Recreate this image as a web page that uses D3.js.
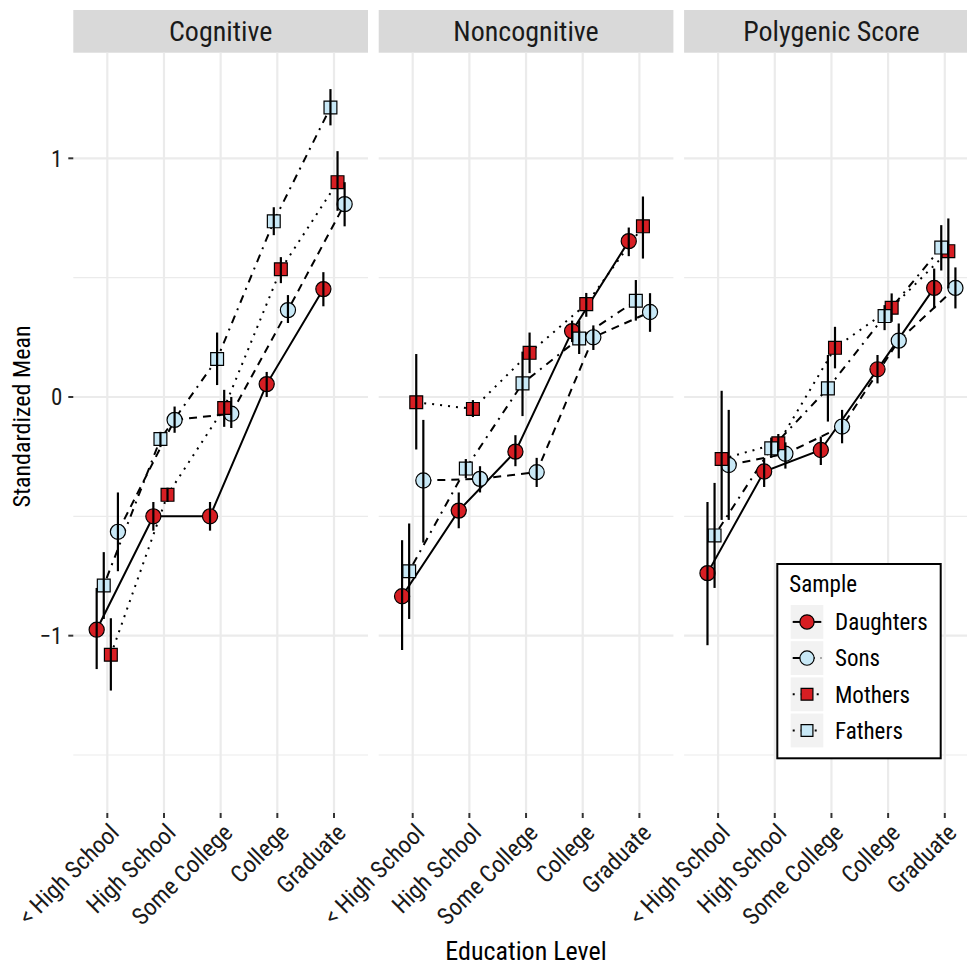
<!DOCTYPE html>
<html>
<head>
<meta charset="utf-8">
<script src="https://cdn.jsdelivr.net/npm/d3@7"></script>
<style>
  html, body { margin: 0; padding: 0; background: #ffffff; }
  svg { display: block; font-family: "Liberation Sans Narrow", "Roboto Condensed", "DejaVu Sans Condensed", sans-serif; }
</style>
</head>
<body>
<svg id="chart" width="967" height="966"></svg>
<script>
// ---------------- data ----------------
const categories = ["< High School", "High School", "Some College", "College", "Graduate"];
const panels = ["Cognitive", "Noncognitive", "Polygenic Score"];
const samples = ["Daughters", "Sons", "Mothers", "Fathers"];          // legend order
const dodgeOrder = ["Daughters", "Fathers", "Mothers", "Sons"];       // left-to-right within a category
const yTicks = [-1, 0, 1];
const yTickLabels = ["\u22121", "0", "1"];
const yMinor = [-1.5, -0.5, 0.5];
const yLimits = [-1.743, 1.4425];

// rows follow `samples` order: Daughters, Sons, Mothers, Fathers
const cognitiveMean = [
  [-0.975, -0.50, -0.50, 0.054, 0.452],
  [-0.565, -0.096, -0.07, 0.364, 0.808],
  [-1.08, -0.41, -0.046, 0.535, 0.90],
  [-0.79, -0.176, 0.159, 0.736, 1.213]
];
const cognitiveLo = [
  [-1.14, -0.56, -0.56, 0.0, 0.38],
  [-0.73, -0.15, -0.13, 0.31, 0.715],
  [-1.23, -0.44, -0.125, 0.477, 0.78],
  [-0.93, -0.21, 0.05, 0.678, 1.138]
];
const cognitiveHi = [
  [-0.80, -0.44, -0.44, 0.105, 0.523],
  [-0.40, -0.04, 0.0, 0.427, 0.90],
  [-0.927, -0.38, 0.03, 0.586, 1.03],
  [-0.65, -0.146, 0.27, 0.795, 1.29]
];

const noncognitiveMean = [
  [-0.835, -0.476, -0.229, 0.276, 0.653],
  [-0.35, -0.343, -0.315, 0.25, 0.356],
  [-0.022, -0.05, 0.185, 0.389, 0.715],
  [-0.73, -0.30, 0.057, 0.245, 0.403]
];
const noncognitiveLo = [
  [-1.06, -0.55, -0.29, 0.23, 0.59],
  [-0.61, -0.40, -0.377, 0.197, 0.273],
  [-0.22, -0.084, 0.10, 0.336, 0.58],
  [-0.93, -0.34, -0.08, 0.18, 0.32]
];
const noncognitiveHi = [
  [-0.60, -0.40, -0.16, 0.32, 0.71],
  [-0.096, -0.29, -0.255, 0.30, 0.435],
  [0.18, -0.013, 0.27, 0.436, 0.84],
  [-0.53, -0.26, 0.19, 0.32, 0.49]
];

const polygenicMean = [
  [-0.738, -0.312, -0.222, 0.116, 0.457],
  [-0.285, -0.238, -0.124, 0.236, 0.457],
  [-0.26, -0.194, 0.206, 0.374, 0.611],
  [-0.58, -0.215, 0.036, 0.339, 0.626]
];
const polygenicLo = [
  [-1.04, -0.377, -0.285, 0.057, 0.371],
  [-0.515, -0.30, -0.194, 0.162, 0.371],
  [-0.515, -0.229, 0.12, 0.315, 0.455],
  [-0.80, -0.255, -0.103, 0.28, 0.53]
];
const polygenicHi = [
  [-0.44, -0.255, -0.166, 0.176, 0.538],
  [-0.054, -0.19, -0.054, 0.308, 0.543],
  [0.026, -0.155, 0.294, 0.434, 0.748],
  [-0.36, -0.17, 0.176, 0.385, 0.72]
];

const panelMeans = [cognitiveMean, noncognitiveMean, polygenicMean];
const panelLos = [cognitiveLo, noncognitiveLo, polygenicLo];
const panelHis = [cognitiveHi, noncognitiveHi, polygenicHi];

// ---------------- styles ----------------
const fillColor = { Daughters: "#d71e23", Sons: "#c8e8f6", Mothers: "#d71e23", Fathers: "#c8e8f6" };
const shapeOf = { Daughters: d3.symbolCircle, Sons: d3.symbolCircle, Mothers: d3.symbolSquare, Fathers: d3.symbolSquare };
const dashOf = { Daughters: null, Sons: "8,6", Mothers: "2,6", Fathers: "2,6,8,6" };

// ---------------- layout ----------------
const svg = d3.select("#chart");
const panelLeft0 = 73.3, panelW = 294.7, panelGap = 10.7;
const panelTop = 52.7, panelBottom = 813, stripTop = 10;
const fontMain = 23;

const y = d3.scaleLinear().domain(yLimits).range([panelBottom, panelTop]);

panels.forEach((pname, pi) => {
  const left = panelLeft0 + pi * (panelW + panelGap);
  const x = d3.scalePoint().domain(categories).range([left, left + panelW]).padding(0.6);
  const step = x.step();
  const dodge = d3.scalePoint().domain(dodgeOrder).range([-0.375 * 0.5 * step, 0.375 * 0.5 * step]);
  const g = svg.append("g");

  // strip
  g.append("rect").attr("x", left).attr("y", stripTop).attr("width", panelW).attr("height", panelTop - stripTop)
    .attr("fill", "#d9d9d9");
  g.append("text").attr("x", left + panelW / 2).attr("y", (stripTop + panelTop) / 2)
    .attr("dy", "0.36em").attr("text-anchor", "middle").attr("font-size", 28).attr("fill", "#1a1a1a").text(pname);

  // grid
  g.selectAll(".minor").data(yMinor).join("line")
    .attr("x1", left).attr("x2", left + panelW).attr("y1", d => y(d)).attr("y2", d => y(d))
    .attr("stroke", "#ebebeb").attr("stroke-width", 1.2);
  g.selectAll(".major").data(yTicks).join("line")
    .attr("x1", left).attr("x2", left + panelW).attr("y1", d => y(d)).attr("y2", d => y(d))
    .attr("stroke", "#ebebeb").attr("stroke-width", 2.2);
  g.selectAll(".vgrid").data(categories).join("line")
    .attr("x1", d => x(d)).attr("x2", d => x(d)).attr("y1", panelTop).attr("y2", panelBottom)
    .attr("stroke", "#ebebeb").attr("stroke-width", 2.2);

  // x axis ticks & labels
  const xa = g.append("g");
  xa.selectAll("line").data(categories).join("line")
    .attr("x1", d => x(d)).attr("x2", d => x(d)).attr("y1", panelBottom).attr("y2", panelBottom + 5)
    .attr("stroke", "#333").attr("stroke-width", 2);
  xa.selectAll("text").data(categories).join("text")
    .attr("transform", d => `translate(${x(d) + 1},${panelBottom + 9}) rotate(-45)`)
    .attr("text-anchor", "end").attr("dy", "0.72em").attr("font-size", 24).attr("fill", "#1a1a1a")
    .text(d => d);

  // series
  const means = panelMeans[pi], los = panelLos[pi], his = panelHis[pi];
  const series = samples.map((s, si) => ({
    name: s,
    pts: categories.map((c, ci) => ({ c, v: means[si][ci], lo: los[si][ci], hi: his[si][ci] }))
  }));
  const line = d3.line().x(d => d.px).y(d => y(d.v));
  series.forEach(s => s.pts.forEach(p => p.px = x(p.c) + dodge(s.name)));

  // lines
  g.selectAll(".ser").data(series).join("path")
    .attr("d", s => line(s.pts)).attr("fill", "none").attr("stroke", "#000").attr("stroke-width", 2)
    .attr("stroke-dasharray", s => dashOf[s.name]);

  // points
  series.forEach(s => {
    g.selectAll(null).data(s.pts).join("path")
      .attr("transform", p => `translate(${p.px},${y(p.v)})`)
      .attr("d", d3.symbol().type(shapeOf[s.name]).size(shapeOf[s.name] === d3.symbolCircle ? 180 : 165))
      .attr("fill", fillColor[s.name]).attr("stroke", "#000").attr("stroke-width", 1.2);
  });
  // error bars
  series.forEach(s => {
    g.selectAll(null).data(s.pts).join("line")
      .attr("x1", p => p.px).attr("x2", p => p.px).attr("y1", p => y(p.lo)).attr("y2", p => y(p.hi))
      .attr("stroke", "#000").attr("stroke-width", 2.2);
  });
});

// y axis
const ya = svg.append("g");
ya.selectAll("line").data(yTicks).join("line")
  .attr("x1", panelLeft0 - 5).attr("x2", panelLeft0).attr("y1", d => y(d)).attr("y2", d => y(d))
  .attr("stroke", "#333").attr("stroke-width", 2);
ya.selectAll("text").data(yTicks).join("text")
  .attr("x", panelLeft0 - 11).attr("y", d => y(d)).attr("dy", "0.36em").attr("text-anchor", "end")
  .attr("font-size", fontMain).attr("fill", "#1a1a1a").text((d, i) => yTickLabels[i]);

// axis titles
svg.append("text").attr("transform", `translate(30,${(stripTop + panelBottom) / 2 + 5}) rotate(-90)`)
  .attr("text-anchor", "middle").attr("font-size", 24).attr("fill", "#000").text("Standardized Mean");
svg.append("text").attr("x", panelLeft0 + (3 * panelW + 2 * panelGap) / 2).attr("y", 960)
  .attr("text-anchor", "middle").attr("font-size", 26).attr("fill", "#000").text("Education Level");

// legend
const lg = svg.append("g");
const lgX = 777.3, lgY = 564, lgW = 163.4, lgH = 194.3;
lg.append("rect").attr("x", lgX).attr("y", lgY).attr("width", lgW).attr("height", lgH)
  .attr("fill", "#fff").attr("stroke", "#000").attr("stroke-width", 2);
lg.append("text").attr("x", lgX + 12).attr("y", lgY + 28).attr("font-size", 23).attr("fill", "#000").text("Sample");
const keyY = d3.scaleBand().domain(samples).range([lgY + 41, lgY + 41 + 4 * 35.6]).paddingInner(0.065);
samples.forEach(s => {
  const ky = keyY(s), kh = keyY.bandwidth(), kx = lgX + 13.4, kw = 32.6;
  lg.append("rect").attr("x", kx).attr("y", ky).attr("width", kw).attr("height", kh).attr("fill", "#f2f2f2");
  lg.append("line").attr("x1", kx + 2).attr("x2", kx + kw - 2).attr("y1", ky + kh / 2).attr("y2", ky + kh / 2)
    .attr("stroke", "#000").attr("stroke-width", 2).attr("stroke-dasharray", dashOf[s]);
  lg.append("path").attr("transform", `translate(${kx + kw / 2},${ky + kh / 2})`)
    .attr("d", d3.symbol().type(shapeOf[s]).size(shapeOf[s] === d3.symbolCircle ? 160 : 140))
    .attr("fill", fillColor[s]).attr("stroke", "#000").attr("stroke-width", 1.2);
  lg.append("text").attr("x", lgX + 57.7).attr("y", ky + kh / 2).attr("dy", "0.36em")
    .attr("font-size", 23).attr("fill", "#000").text(s);
});
</script>
</body>
</html>
